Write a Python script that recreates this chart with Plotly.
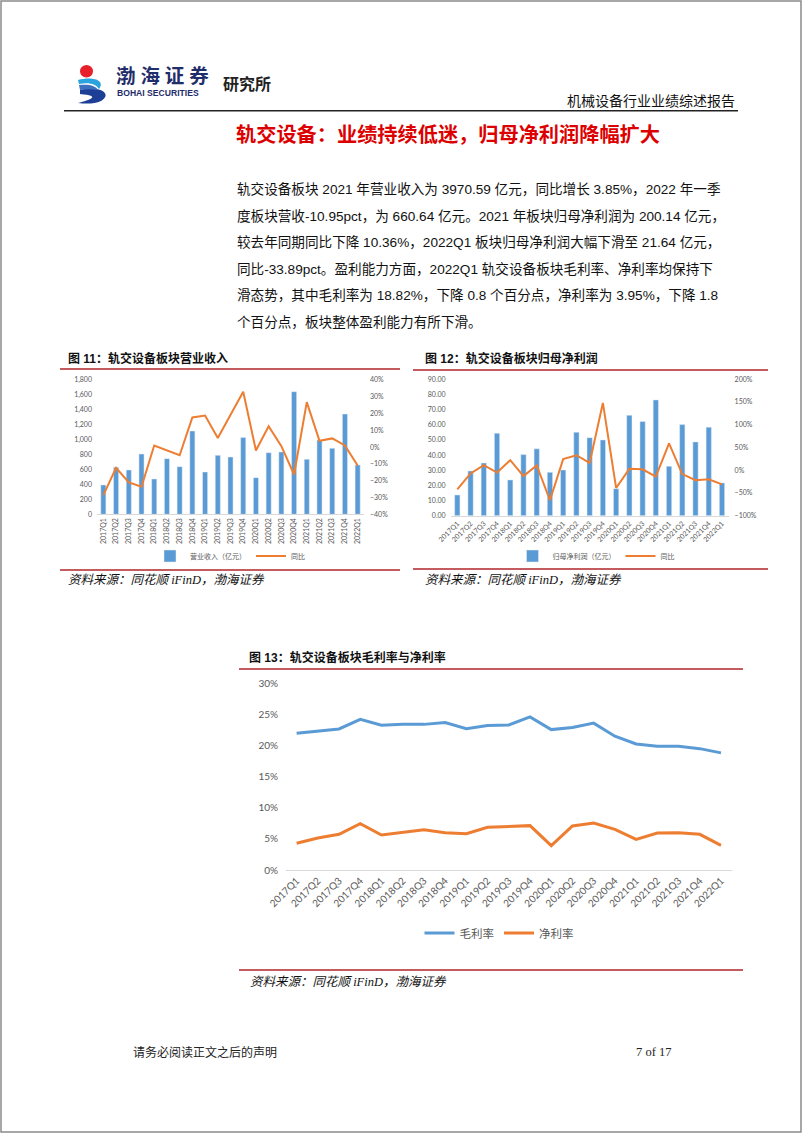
import plotly.graph_objects as go

W, H = 802, 1133


def px(x):
    return x / W


def py(y):
    return 1 - y / H


# ---------------- data ----------------
quarters = ["2017Q1", "2017Q2", "2017Q3", "2017Q4", "2018Q1", "2018Q2", "2018Q3", "2018Q4",
            "2019Q1", "2019Q2", "2019Q3", "2019Q4", "2020Q1", "2020Q2", "2020Q3", "2020Q4",
            "2021Q1", "2021Q2", "2021Q3", "2021Q4", "2022Q1"]

revenue = [393, 629, 594, 808, 473, 746, 638, 1116, 567, 790, 768, 1031,
           491, 826, 835, 1643, 737, 995, 884, 1344, 661]
revenue_yoy = [-0.286, -0.123, -0.210, -0.236, 0.010, -0.018, -0.048, 0.177, 0.188, 0.054, 0.19, 0.330,
               -0.020, 0.125, 0.006, -0.163, 0.268, 0.038, 0.052, 0.010, -0.1095]

profit = [13.7, 29.5, 34.8, 54.4, 23.6, 40.3, 44.1, 28.6, 30.2, 55.1, 51.5, 50.0,
          17.8, 66.3, 62.1, 76.4, 32.6, 60.1, 48.7, 58.4, 21.64]
profit_yoy = [-0.42, -0.07, 0.11, -0.05, 0.22, -0.13, 0.105, -0.66, 0.245, 0.33, 0.16, 1.48,
              -0.39, 0.03, 0.02, -0.14, 0.59, -0.085, -0.22, -0.20, -0.31]

gross_margin = [0.2197, 0.2230, 0.2267, 0.2420, 0.2326, 0.2340, 0.2340, 0.2370, 0.2270, 0.2320, 0.2330,
                0.2460, 0.2256, 0.2290, 0.2360, 0.2150, 0.2026, 0.1990, 0.1990, 0.1950, 0.1882]
net_margin = [0.0429, 0.0514, 0.0573, 0.0745, 0.0563, 0.0600, 0.0648, 0.0600, 0.0584, 0.0686, 0.0702,
              0.0713, 0.0391, 0.0707, 0.0756, 0.0654, 0.0493, 0.0595, 0.0600, 0.0573, 0.0395]

body_lines = [
    "轨交设备板块 2021 年营业收入为 3970.59 亿元，同比增长 3.85%，2022 年一季",
    "度板块营收-10.95pct，为 660.64 亿元。2021 年板块归母净利润为 200.14 亿元，",
    "较去年同期同比下降 10.36%，2022Q1 板块归母净利润大幅下滑至 21.64 亿元，",
    "同比-33.89pct。盈利能力方面，2022Q1 轨交设备板块毛利率、净利率均保持下",
    "滑态势，其中毛利率为 18.82%，下降 0.8 个百分点，净利率为 3.95%，下降 1.8",
    "个百分点，板块整体盈利能力有所下滑。",
]

BLUE = "#5B9BD5"
ORANGE = "#ED7D31"
GRAY = "#595959"
RED = "#DC0000"
DARKRED = "#B0252A"
TICKFONT = "Lato, Noto Sans CJK SC"
CJK = "Noto Sans CJK SC"
BODY = "Liberation Sans, Noto Sans CJK SC"
SERIF = "Liberation Serif, Noto Sans CJK SC"

fig = go.Figure()

# chart 11
fig.add_trace(go.Bar(x=quarters, y=revenue, name="营业收入（亿元）", marker_color=BLUE,
                     width=0.4, xaxis="x", yaxis="y", legend="legend"))
fig.add_trace(go.Scatter(x=quarters, y=revenue_yoy, name="同比", mode="lines",
                         line=dict(color=ORANGE, width=2), xaxis="x", yaxis="y2", legend="legend"))
# chart 12
fig.add_trace(go.Bar(x=quarters, y=profit, name="归母净利润（亿元）", marker_color=BLUE,
                     width=0.4, xaxis="x2", yaxis="y3", legend="legend2"))
fig.add_trace(go.Scatter(x=quarters, y=profit_yoy, name="同比", mode="lines",
                         line=dict(color=ORANGE, width=2), xaxis="x2", yaxis="y4", legend="legend2"))
# chart 13
fig.add_trace(go.Scatter(x=quarters, y=gross_margin, name="毛利率", mode="lines",
                         line=dict(color=BLUE, width=3), xaxis="x3", yaxis="y5", legend="legend3"))
fig.add_trace(go.Scatter(x=quarters, y=net_margin, name="净利率", mode="lines",
                         line=dict(color=ORANGE, width=3), xaxis="x3", yaxis="y5", legend="legend3"))

small_tick = dict(family=TICKFONT, size=7, color=GRAY)
mid_tick = dict(family=TICKFONT, size=10, color=GRAY)

common_x = dict(type="category", range=[-0.5, 20.5], showgrid=False, zeroline=False, automargin=False,
                showline=True, linecolor="#D9D9D9", linewidth=1, ticks="", fixedrange=True)
common_y = dict(showgrid=False, zeroline=False, showline=False, ticks="", fixedrange=True, automargin=False)

fig.update_layout(
    width=W, height=H,
    margin=dict(l=0, r=0, t=0, b=0, pad=0, autoexpand=False),
    paper_bgcolor="white", plot_bgcolor="white",
    showlegend=True,
    xaxis=dict(common_x, domain=[px(97), px(364)], anchor="y", tickangle=-90, tickfont=small_tick),
    yaxis=dict(common_y, domain=[py(514.3), py(380)], anchor="x", range=[0, 1800], dtick=200,
               tickformat=",", tickfont=small_tick, ticklabelstandoff=4),
    yaxis2=dict(common_y, overlaying="y", side="right", anchor="x", range=[-0.4, 0.4], dtick=0.1,
                tickformat=".0%", tickfont=small_tick, ticklabelstandoff=5),
    xaxis2=dict(common_x, domain=[px(450.7), px(728.6)], anchor="y3", tickangle=-45, tickfont=small_tick),
    yaxis3=dict(common_y, domain=[py(515.7), py(379.3)], anchor="x2", range=[0, 90], dtick=10,
                tickformat=".2f", tickfont=small_tick, ticklabelstandoff=4),
    yaxis4=dict(common_y, overlaying="y3", side="right", anchor="x2", range=[-1, 2], dtick=0.5,
                tickformat=".0%", tickfont=small_tick, ticklabelstandoff=5),
    xaxis3=dict(common_x, domain=[px(286), px(731.6)], anchor="y5", tickangle=-45, tickfont=mid_tick),
    yaxis5=dict(common_y, domain=[py(870), py(683.3)], anchor="x3", range=[0, 0.3], dtick=0.05,
                tickformat=".0%", tickfont=mid_tick, ticklabelstandoff=7),
    legend=dict(orientation="h", x=px(230), y=py(556), xanchor="center", yanchor="middle",
                font=dict(family=CJK, size=7, color=GRAY), bgcolor="rgba(0,0,0,0)", itemwidth=30),
    legend2=dict(orientation="h", x=px(596), y=py(556), xanchor="center", yanchor="middle",
                 font=dict(family=CJK, size=7, color=GRAY), bgcolor="rgba(0,0,0,0)", itemwidth=30),
    legend3=dict(orientation="h", x=px(499), y=py(933), xanchor="center", yanchor="middle",
                 font=dict(family=CJK, size=11.5, color=GRAY), bgcolor="rgba(0,0,0,0)", itemwidth=30),
)

ann = []


def text(x, y, s, size, color="black", family=CJK, xanchor="left"):
    ann.append(dict(x=px(x), y=py(y), xref="paper", yref="paper", text=s, showarrow=False,
                    xanchor=xanchor, yanchor="middle", font=dict(family=family, size=size, color=color)))


# header
text(114, 76, "<b>渤 海 证 券</b>", 19.5, "#1f2d6b", family=SERIF)
text(115, 93.5, "<b>BOHAI SECURITIES</b>", 8.6, "#1f2d6b", family="Liberation Sans Narrow, Liberation Sans")
text(221, 83, "<b>研究所</b>", 16, "#222222")
text(737, 100, "机械设备行业业绩综述报告", 14, "#111111", xanchor="right")

# heading
text(234, 133, "<b>轨交设备：业绩持续低迷，归母净利润降幅扩大</b>", 20.2, RED)

# body
body_y = [189.3, 215.8, 242.4, 268.9, 295.4, 321.9]
for yy, s in zip(body_y, body_lines):
    text(235, yy, s, 13.6, "#111111", family=BODY)

# chart titles
text(66, 358, "<b>图 11：轨交设备板块营业收入</b>", 12, "#111111", family=BODY)
text(423, 358, "<b>图 12：轨交设备板块归母净利润</b>", 12, "#111111", family=BODY)
text(247, 657, "<b>图 13：轨交设备板块毛利率与净利率</b>", 12, "#111111", family=BODY)

# sources
text(66, 580, "<i>资料来源：同花顺 iFinD，渤海证券</i>", 12.5, "#111111", family=SERIF)
text(423, 580, "<i>资料来源：同花顺 iFinD，渤海证券</i>", 12.5, "#111111", family=SERIF)
text(248, 982, "<i>资料来源：同花顺 iFinD，渤海证券</i>", 12.5, "#111111", family=SERIF)

# footer
text(131, 1052, "请务必阅读正文之后的声明", 12, "#222222", family=SERIF)
text(634, 1052, "7 of 17", 12.5, "#222222", family=SERIF)

fig.update_layout(annotations=ann)

shapes = []


def hline(x0, x1, y, color, width):
    shapes.append(dict(type="line", xref="paper", yref="paper", x0=px(x0), x1=px(x1), y0=py(y), y1=py(y),
                       line=dict(color=color, width=width)))


# page border
shapes.append(dict(type="rect", xref="paper", yref="paper", x0=px(1), x1=px(801), y0=py(1132), y1=py(1),
                   line=dict(color="#8a8a8a", width=1.5), fillcolor="rgba(0,0,0,0)"))
# header rule
hline(64, 738, 110.7, "#222222", 1.6)
# chart frames
hline(60, 400, 369, DARKRED, 1.3)
hline(60, 400, 570, DARKRED, 1.3)
hline(413, 768, 370, DARKRED, 1.3)
hline(413, 768, 569, DARKRED, 1.3)
hline(239, 743, 669, DARKRED, 1.3)
hline(239, 743, 970, DARKRED, 1.3)


def path(points, close=True):
    parts = []
    for item in points:
        cmd = item[0]
        coords = item[1:]
        seg = cmd + " " + " ".join(f"{px(coords[j]):.5f},{py(coords[j + 1]):.5f}" for j in range(0, len(coords), 2))
        parts.append(seg)
    return " ".join(parts) + (" Z" if close else "")


# logo (approximation)
shapes.append(dict(type="circle", xref="paper", yref="paper", x0=px(80), x1=px(93), y0=py(77.5), y1=py(65),
                   fillcolor="#E8202A", line=dict(width=0)))
shapes.append(dict(type="path", xref="paper", yref="paper",
                   path=path([("M", 78, 80), ("C", 92, 76, 106, 80, 99, 89), ("C", 96, 84, 89, 82, 79, 84)]),
                   fillcolor="#2AA3DE", line=dict(width=0)))
shapes.append(dict(type="path", xref="paper", yref="paper",
                   path=path([("M", 80, 90), ("C", 100, 85, 113, 94, 101, 101), ("C", 95, 104, 86, 104, 78, 103),
                              ("C", 90, 100, 102, 96, 80, 94)]),
                   fillcolor="#1E3F96", line=dict(width=0)))
shapes.append(dict(type="path", xref="paper", yref="paper",
                   path=path([("M", 79, 85), ("C", 90, 84, 96, 86, 98, 90), ("C", 92, 89, 86, 89, 80, 90)]),
                   fillcolor="#3C6FC0", line=dict(width=0)))

fig.update_layout(shapes=shapes)

fig.write_html("out.html", config={"displayModeBar": False, "staticPlot": False},
               post_script="document.body.style.margin='0px';document.body.style.padding='0px';")
